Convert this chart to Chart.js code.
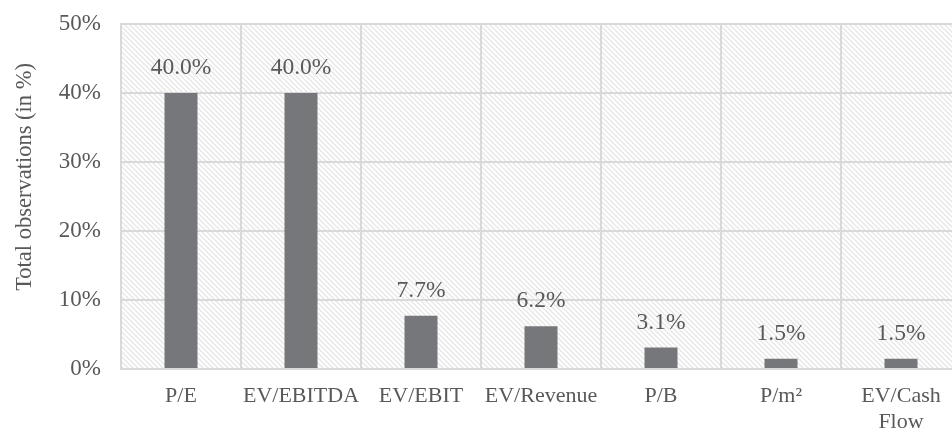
<!DOCTYPE html>
<html>
<head>
<meta charset="utf-8">
<script src="https://cdn.jsdelivr.net/npm/chart.js@4.4.0/dist/chart.umd.min.js"></script>
<style>
    html, body { margin: 0; padding: 0; overflow: hidden; background: #fff; }
    #wrap { width: 962px; height: 430px; position: relative; }
</style>
</head>
<body>
<div id="wrap"><canvas id="barChart"></canvas></div>
<script>
var categories = ["P/E", "EV/EBITDA", "EV/EBIT", "EV/Revenue", "P/B", "P/m²", ["EV/Cash", "Flow"]];
var observations = [40.0, 40.0, 7.7, 6.2, 3.1, 1.5, 1.5];
var yTicks = [0, 10, 20, 30, 40, 50];
var yTitle = "Total observations (in %)";

var textColor = "#595959";
var serif = "'Liberation Serif', 'Times New Roman', serif";

function makeHatch() {
    // light diagonal stripes like the excel plot area fill
    var s = 5;
    var c = document.createElement("canvas");
    c.width = s;
    c.height = s;
    var g = c.getContext("2d");
    g.fillStyle = "#ffffff";
    g.fillRect(0, 0, s, s);
    g.strokeStyle = "#e8e8e8";
    g.lineWidth = 1.5;
    g.beginPath();
    g.moveTo(0, 0); g.lineTo(s, s);
    g.moveTo(s - 1, -1); g.lineTo(s + 1, 1);
    g.moveTo(-1, s - 1); g.lineTo(1, s + 1);
    g.stroke();
    return g.createPattern(c, "repeat");
}

const hatchBackground = {
    id: "hatchBackground",
    beforeDraw(chart) {
        const a = chart.chartArea;
        const ctx = chart.ctx;
        ctx.save();
        ctx.fillStyle = makeHatch();
        ctx.fillRect(a.left, a.top, a.right - a.left, a.bottom - a.top);
        ctx.restore();
    }
};

const valueLabels = {
    id: "valueLabels",
    afterDatasetsDraw(chart) {
        const ctx = chart.ctx;
        const meta = chart.getDatasetMeta(0);
        ctx.save();
        ctx.font = "23.5px " + serif;
        ctx.fillStyle = textColor;
        ctx.textAlign = "center";
        ctx.textBaseline = "middle";
        meta.data.forEach((bar, i) => {
            ctx.fillText(observations[i].toFixed(1) + "%", bar.x, bar.y - 25);
        });
        ctx.restore();
    }
};

const axisTitle = {
    id: "axisTitle",
    afterDraw(chart) {
        const ctx = chart.ctx;
        ctx.save();
        ctx.font = "22.5px " + serif;
        ctx.fillStyle = textColor;
        ctx.textAlign = "center";
        ctx.textBaseline = "middle";
        ctx.translate(25, 177);
        ctx.rotate(-Math.PI / 2);
        ctx.fillText(yTitle, 0, 0);
        ctx.restore();
    }
};

const ctx = document.getElementById("barChart");
new Chart(ctx, {
    type: "bar",
    data: {
        labels: categories,
        datasets: [{
            data: observations,
            backgroundColor: "#76777b",
            borderWidth: 0,
            barPercentage: 0.275,
            categoryPercentage: 1
        }]
    },
    options: {
        responsive: true,
        maintainAspectRatio: false,
        animation: false,
        layout: { padding: { top: 24, right: 1, bottom: 0, left: 0 } },
        plugins: {
            legend: { display: false },
            tooltip: { enabled: false }
        },
        scales: {
            x: {
                afterFit: (scale) => {
                    scale.height = 61;
                    scale.paddingLeft = 0;
                    scale.paddingRight = 0;
                },
                grid: { color: "#d9d9d9", lineWidth: 2, drawTicks: false, offset: true },
                border: { color: "#d9d9d9", width: 2 },
                ticks: {
                    color: textColor,
                    padding: 14,
                    maxRotation: 0,
                    font: { family: serif, size: 22, lineHeight: 1.2 }
                }
            },
            y: {
                min: 0,
                max: 50,
                afterFit: (scale) => {
                    scale.width = 121;
                    scale.paddingTop = 0;
                    scale.paddingBottom = 0;
                },
                afterBuildTicks: (scale) => { scale.ticks = yTicks.map(v => ({ value: v })); },
                grid: { color: "#d9d9d9", lineWidth: 2, drawTicks: false },
                border: { color: "#d9d9d9", width: 2 },
                ticks: {
                    color: textColor,
                    padding: 20,
                    font: { family: serif, size: 23 },
                    callback: (v) => v + "%"
                }
            }
        }
    },
    plugins: [hatchBackground, valueLabels, axisTitle]
});
</script>
</body>
</html>
